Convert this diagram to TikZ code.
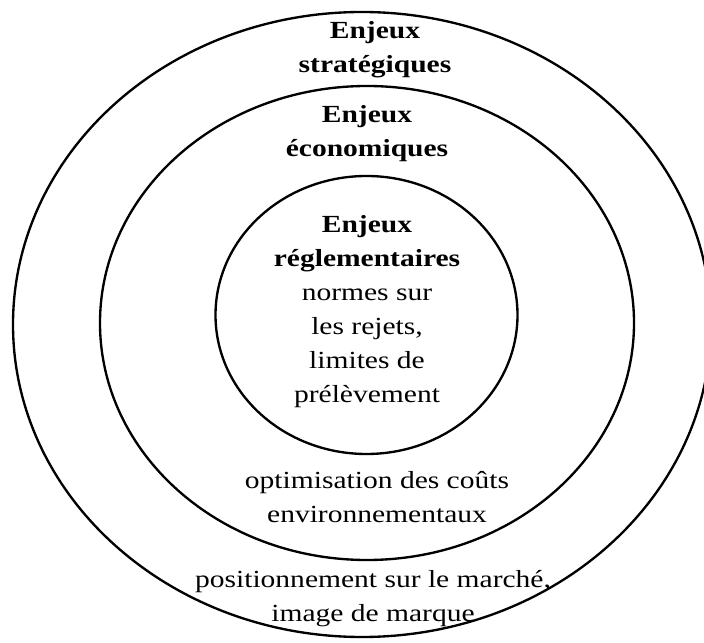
\documentclass[tikz,border=0pt]{standalone}
\usepackage{fontspec}
\setmainfont{Liberation Serif}[FakeStretch=1.2]

\begin{document}
\begin{tikzpicture}[x=0.03cm, y=0.03cm,
        ring/.style={line width=2pt, black},
        enjeu/.style={align=center, inner sep=0pt,
            font=\fontsize{21}{29}\selectfont}
    ]
        \def\rOuterX{349}
        \def\rOuterY{312.5}
        \def\rMidX{267}
        \def\rMidY{237}
        \def\rInX{151}
        \def\rInY{139}

        % page size, the outer ring runs off the right edge
        \useasboundingbox (0, 0) rectangle (704, 642);
        \clip (0, 0) rectangle (704, 642);

        \draw [ring] (362, 317.5) ellipse ({\rOuterX} and {\rOuterY});
        \draw [ring] (367, 319) ellipse ({\rMidX} and {\rMidY});
        \draw [ring] (366.5, 327) ellipse ({\rInX} and {\rInY});

        \node [enjeu] (strat) at (375, 592)
            {\textbf{Enjeux}\\\textbf{stratégiques}};
        \node [enjeu] (eco) at (367, 508)
            {\textbf{Enjeux}\\\textbf{économiques}};
        \node [enjeu] (regl) at (367, 330)
            {\textbf{Enjeux}\\\textbf{réglementaires}\\normes sur\\les rejets,\\limites de\\prélèvement};
        \node [enjeu] (couts) at (377, 145)
            {optimisation des coûts\\environnementaux};
        \node [enjeu] (marche) at (373, 43)
            {positionnement sur le marché,\\image de marque};
    \end{tikzpicture}
\end{document}
